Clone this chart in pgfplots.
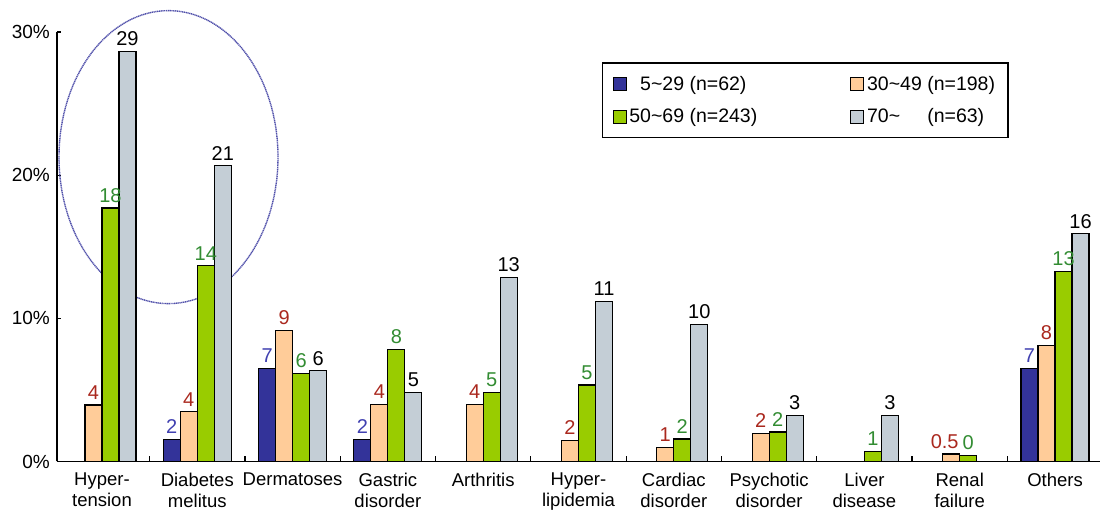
\documentclass[border=0pt]{standalone}
\usepackage{fontspec}
\setmainfont{Liberation Sans}
\usepackage{pgfplots}
\pgfplotsset{compat=1.18}
\usepackage{pgfplotstable}

\definecolor{cBlue}{RGB}{51,51,153}
\definecolor{cOrange}{RGB}{255,204,153}
\definecolor{cGreen}{RGB}{153,204,0}
\definecolor{cGray}{RGB}{196,206,214}
\definecolor{lBlue}{RGB}{64,64,176}
\definecolor{lRed}{RGB}{170,40,30}
\definecolor{lGreen}{RGB}{50,140,50}
\definecolor{cRing}{RGB}{80,80,170}

% label for the small renal-failure bar, nudged left so it clears its neighbour
\newcommand\halfpct{\hspace*{-13pt}0.5}

% share of patients (%) per disease group; x = category index, lab = printed value
\pgfplotstableread{
x y lab
1 1.55 2
2 6.52 7
3 1.55 2
10 6.52 7
}\ageA
\pgfplotstableread{
x y lab
0 3.95 4
1 3.48 4
2 9.13 9
3 4.00 4
4 4.00 4
5 1.48 2
6 0.99 1
7 1.97 2
9 0.52 \halfpct
10 8.13 8
}\ageB
\pgfplotstableread{
x y lab
0 17.70 18
1 13.67 14
2 6.17 6
3 7.85 8
4 4.80 5
5 5.35 5
6 1.57 2
7 2.06 2
8 0.71 1
9 0.41 0
10 13.27 13
}\ageC
\pgfplotstableread{
x y lab
0 28.66 29
1 20.66 21
2 6.33 6
3 4.80 5
4 12.85 13
5 11.20 11
6 9.55 10
7 3.20 3
8 3.20 3
10 15.90 16
}\ageD

\begin{document}
\begin{tikzpicture}
\path[use as bounding box] (-57pt,-52.5pt) rectangle (1044pt,461.5pt);
\begin{axis}[
  scale only axis,
  width=1043pt, height=429.5pt,
  xmin=-0.472, xmax=10.472,
  ymin=0, ymax=30,
  clip=false,
  axis x line*=bottom, axis y line*=left,
  axis line style={black, line width=1.3pt},
  ybar=0pt, bar width=17pt,
  xtick={0,...,10},
  xticklabels={Hyper-\\tension, Diabetes\\melitus, Dermatoses, Gastric\\disorder, Arthritis, Hyper-\\lipidemia, Cardiac\\disorder, Psychotic\\disorder, Liver\\disease, Renal\\failure, Others},
  xticklabel style={align=center, font=\fontsize{18.5}{21.5}\selectfont, inner sep=0pt, yshift=-11pt},
  major x tick style={draw=none},
  minor xtick={0.5,1.5,...,9.5},
  minor x tick style={black, line width=1.2pt},
  minor tick length=5pt,
  ytick={0,10,20,30},
  yticklabels={0\%,10\%,20\%,30\%},
  yticklabel style={font=\fontsize{19}{20}\selectfont, inner sep=0pt, xshift=-7pt},
  major y tick style={black, line width=1.2pt},
  major tick length=4pt,
  tick align=inside,
  every node near coord/.append style={font=\fontsize{20}{21}\selectfont, inner sep=0pt, anchor=south, yshift=5pt},
  legend columns=2,
  legend cell align=left,
  legend style={at={(0.5225,0.929)}, anchor=north west, draw=black, line width=1.2pt, fill=white,
    font=\fontsize{19.5}{22}\selectfont, inner xsep=10pt, inner ysep=10pt, row sep=11pt,
    /tikz/every even column/.append style={column sep=90pt},
    nodes={inner sep=3pt}},
  legend image code/.code={\draw[#1, line width=0.8pt] (0pt,-6.5pt) rectangle (13pt,6.5pt);},
]
% highlighting ring around the first two groups
\draw[cRing, line width=1.4pt, dash pattern=on 1.2pt off 0.6pt] (axis cs:0.698,21.26) ellipse [x radius=109.5pt, y radius=146.5pt];

\addplot[fill=cBlue, draw=black, line width=1.2pt, nodes near coords, point meta=explicit symbolic,
  every node near coord/.append style={text=lBlue}] table[x=x, y=y, meta=lab] {\ageA};
\addlegendentry{\phantom{0}5\textasciitilde29 (n=62)}
\addplot[fill=cOrange, draw=black, line width=1.2pt, nodes near coords, point meta=explicit symbolic,
  every node near coord/.append style={text=lRed}] table[x=x, y=y, meta=lab] {\ageB};
\addlegendentry{30\textasciitilde49 (n=198)}
\addplot[fill=cGreen, draw=black, line width=1.2pt, nodes near coords, point meta=explicit symbolic,
  every node near coord/.append style={text=lGreen}] table[x=x, y=y, meta=lab] {\ageC};
\addlegendentry{50\textasciitilde69 (n=243)}
\addplot[fill=cGray, draw=black, line width=1.2pt, nodes near coords, point meta=explicit symbolic,
  every node near coord/.append style={text=black}] table[x=x, y=y, meta=lab] {\ageD};
\addlegendentry{70\textasciitilde\phantom{49} (n=63)}
\end{axis}
\end{tikzpicture}
\end{document}
